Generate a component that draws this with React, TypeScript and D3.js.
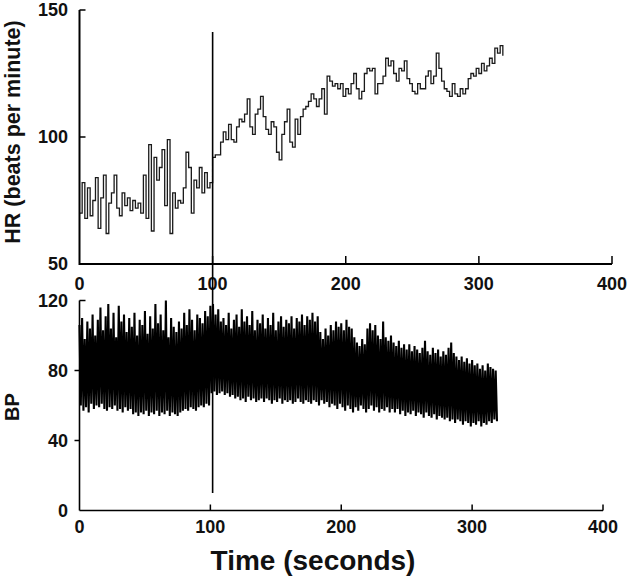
import React from "react";
import * as d3 from "d3";

// Heart rate (beats per minute), sampled every 2 s from t = 0
const HR_STEP = 2;
const hrValues = [
  70, 82, 68, 80, 69, 75, 84, 64, 76, 85,
  62, 74, 78, 85, 72, 69, 78, 73, 76, 71,
  75, 72, 74, 70, 85, 68, 97, 63, 92, 83,
  88, 95, 73, 99, 62, 78, 72, 75, 74, 80,
  94, 88, 70, 83, 80, 88, 78, 86, 80, 82,
  92, 93, 93, 98, 102, 99, 105, 99, 98, 104,
  107, 106, 109, 115, 104, 101, 109, 111, 116, 108,
  103, 101, 106, 104, 94, 91, 101, 106, 111, 98,
  96, 107, 101, 108, 111, 112, 114, 117, 115, 112,
  115, 119, 109, 124, 122, 120, 121, 119, 121, 116,
  119, 117, 121, 125, 119, 115, 118, 125, 127, 126,
  127, 117, 121, 121, 124, 131, 128, 130, 125, 122,
  127, 126, 130, 123, 121, 118, 117, 121, 119, 119,
  124, 126, 121, 124, 133, 127, 122, 119, 118, 116,
  121, 117, 116, 119, 117, 119, 123, 125, 124, 127,
  125, 129, 126, 128, 131, 129, 135, 133, 136, 132,
];

// Blood pressure: systolic peaks at t = 0,2,4,... and diastolic troughs at t = 1,3,5,...
const BP_STEP = 2;
const bpSystolic = [
  106, 110, 98, 108, 104, 112, 100, 109, 116, 103,
  111, 118, 104, 113, 99, 117, 108, 112, 102, 110,
  105, 113, 100, 109, 106, 114, 101, 111, 104, 118,
  107, 112, 103, 120, 99, 110, 105, 102, 108, 104,
  113, 106, 115, 109, 103, 112, 110, 107, 114, 111,
  117, 118, 112, 115, 108, 110, 106, 113, 104, 109,
  112, 105, 115, 108, 111, 106, 114, 103, 109, 107,
  112, 104, 110, 106, 113, 103, 108, 111, 105, 109,
  107, 111, 104, 110, 108, 112, 106, 111, 109, 113,
  108, 111, 102, 98, 104, 100, 106, 103, 108, 105,
  107, 103, 109, 105, 104, 99, 96, 94, 98, 95,
  104, 107, 103, 106, 100, 98, 108, 99, 97, 100,
  96, 94, 97, 93, 95, 92, 95, 91, 94, 92,
  90, 93, 97, 91, 89, 93, 90, 92, 88, 91,
  89, 93, 96, 90, 88, 86, 88, 85, 87, 84,
  86, 83, 84, 81, 83, 80, 84, 82, 81, 80,
];
const bpDiastolic = [
  60, 57, 59, 56, 61, 58, 60, 59, 61, 58,
  57, 59, 58, 60, 57, 58, 56, 59, 57, 58,
  55, 56, 54, 56, 55, 57, 54, 56, 55, 57,
  54, 56, 55, 57, 54, 56, 55, 54, 56, 57,
  58, 57, 59, 58, 57, 59, 60, 59, 61, 60,
  67, 68, 66, 67, 68, 66, 67, 65, 66, 64,
  65, 63, 64, 62, 65, 63, 64, 62, 63, 64,
  62, 64, 63, 61, 63, 62, 64, 61, 63, 62,
  63, 61, 62, 64, 62, 61, 63, 62, 61, 63,
  62, 60, 63, 61, 62, 59, 61, 60, 58, 61,
  59, 57, 60, 58, 56, 59, 57, 60, 58, 56,
  58, 60, 57, 59, 56, 58, 57, 59, 56, 58,
  56, 58, 55, 57, 54, 56, 55, 57, 54, 56,
  55, 53, 56, 54, 53, 55, 52, 54, 53, 52,
  53, 51, 52, 50, 52, 51, 49, 51, 50, 48,
  50, 49, 51, 48, 50, 49, 51, 50, 52, 51,
];

const xTicks = [0, 100, 200, 300, 400];
const hrTicks = [50, 100, 150];
const bpTicks = [0, 40, 80, 120];
const eventTime = 100;

const FONT = "'Liberation Sans', Arial, Helvetica, sans-serif";

export default function App() {
  const xTop = d3.scaleLinear().domain([0, 400]).range([79.5, 612]);
  const yTop = d3.scaleLinear().domain([50, 150]).range([264, 10]);
  const xBot = d3.scaleLinear().domain([0, 400]).range([79.5, 603]);
  const yBot = d3.scaleLinear().domain([0, 120]).range([510.5, 300.5]);

  const hrPts: [number, number][] = hrValues.map((v, i) => [i * HR_STEP, v]);
  const hrLine = d3
    .line<[number, number]>()
    .x((d) => xTop(d[0]))
    .y((d) => yTop(d[1]))
    .curve(d3.curveStepAfter);

  const bpPts: [number, number][] = [];
  bpSystolic.forEach((s, i) => {
    bpPts.push([i * BP_STEP, s]);
    if (i < bpDiastolic.length) bpPts.push([i * BP_STEP + 1, bpDiastolic[i]]);
  });
  const bpLine = d3
    .line<[number, number]>()
    .x((d) => xBot(d[0]))
    .y((d) => yBot(d[1]));

  const tickLabel = {
    fontFamily: FONT,
    fontWeight: 700,
    fontSize: 18,
    fill: "#111",
  } as const;

  return (
    <svg
      width={632}
      height={580}
      style={{ position: "absolute", left: 0, top: 0, background: "#fff" }}
    >
      {/* HR trace */}
      <path d={hrLine(hrPts) || ""} fill="none" stroke="#1a1a1a" strokeWidth={1.3} />

      {/* BP trace */}
      <path
        d={bpLine(bpPts) || ""}
        fill="none"
        stroke="#000"
        strokeWidth={2.1}
        strokeLinejoin="bevel"
      />

      {/* Top axes */}
      <line x1={xTop(0)} x2={xTop(0)} y1={yTop(150)} y2={yTop(50) + 1} stroke="#000" strokeWidth={2} />
      <line x1={xTop(0)} x2={xTop(400)} y1={yTop(50)} y2={yTop(50)} stroke="#000" strokeWidth={2.2} />
      {hrTicks.map((t) => (
        <g key={"hy" + t}>
          {t !== 50 && (
            <line x1={xTop(0)} x2={xTop(0) + 6} y1={yTop(t)} y2={yTop(t)} stroke="#000" strokeWidth={1.5} />
          )}
          <text x={68} y={yTop(t)} dy="0.36em" textAnchor="end" {...tickLabel}>
            {t}
          </text>
        </g>
      ))}
      {xTicks.map((t) => (
        <g key={"hx" + t}>
          {t !== 0 && (
            <line x1={xTop(t)} x2={xTop(t)} y1={yTop(50)} y2={yTop(50) - 8} stroke="#000" strokeWidth={1.5} />
          )}
          <text x={xTop(t)} y={290} textAnchor="middle" {...tickLabel}>
            {t}
          </text>
        </g>
      ))}

      {/* Bottom axes */}
      <line x1={xBot(0)} x2={xBot(0)} y1={yBot(120)} y2={yBot(0)} stroke="#000" strokeWidth={1.6} />
      <line x1={xBot(0)} x2={xBot(400)} y1={yBot(0)} y2={yBot(0)} stroke="#000" strokeWidth={1.6} />
      {bpTicks.map((t) => (
        <g key={"by" + t}>
          {t === 120 && (
            <line x1={xBot(0)} x2={xBot(0) + 6} y1={yBot(t)} y2={yBot(t)} stroke="#000" strokeWidth={1.5} />
          )}
          {(t === 80 || t === 40) && (
            <line x1={xBot(0) - 5} x2={xBot(0)} y1={yBot(t)} y2={yBot(t)} stroke="#000" strokeWidth={1.5} />
          )}
          <text x={68} y={yBot(t)} dy="0.36em" textAnchor="end" {...tickLabel}>
            {t}
          </text>
        </g>
      ))}
      {xTicks.map((t) => (
        <g key={"bx" + t}>
          {t !== 0 && (
            <line x1={xBot(t)} x2={xBot(t)} y1={yBot(0)} y2={yBot(0) - 6} stroke="#000" strokeWidth={1.5} />
          )}
          <text x={xBot(t)} y={533} textAnchor="middle" {...tickLabel}>
            {t}
          </text>
        </g>
      ))}

      {/* Event marker */}
      <line x1={xTop(eventTime)} x2={xTop(eventTime)} y1={32} y2={493} stroke="#000" strokeWidth={1.6} />

      {/* Axis titles */}
      <text
        transform={`translate(20, 132) rotate(-90)`}
        textAnchor="middle"
        fontFamily={FONT}
        fontWeight={700}
        fontSize={21.5}
        fill="#111"
      >
        HR (beats per minute)
      </text>
      <text
        transform={`translate(19, 407) rotate(-90)`}
        textAnchor="middle"
        fontFamily={FONT}
        fontWeight={700}
        fontSize={20}
        fill="#111"
      >
        BP
      </text>
      <text
        x={313}
        y={570}
        textAnchor="middle"
        fontFamily={FONT}
        fontWeight={700}
        fontSize={28}
        fill="#111"
      >
        Time (seconds)
      </text>
    </svg>
  );
}
